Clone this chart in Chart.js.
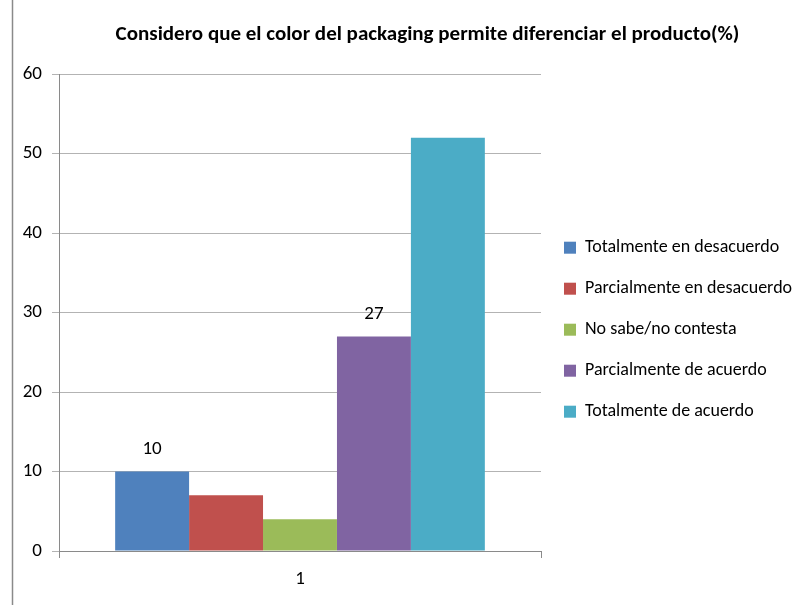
<!DOCTYPE html>
<html>
<head>
<meta charset="utf-8">
<script src="https://cdn.jsdelivr.net/npm/chart.js@4/dist/chart.umd.min.js"></script>
<style>
  html, body { margin: 0; padding: 0; background: #ffffff; }
  #wrap { width: 797px; height: 605px; }
</style>
</head>
<body>
<div id="wrap"><canvas id="c" width="797" height="605"></canvas></div>
<script>
const categories = ['1'];
const seriesNames = [
  'Totalmente en desacuerdo',
  'Parcialmente en desacuerdo',
  'No sabe/no contesta',
  'Parcialmente de acuerdo',
  'Totalmente de acuerdo'
];
const seriesValues = [10, 7, 4, 27, 52];
const seriesColors = ['#4F81BD', '#C0504D', '#9BBB59', '#8064A2', '#4BACC6'];
const showValueLabel = [true, false, false, true, false];
const yTicks = [0, 10, 20, 30, 40, 50, 60];

const FONT = "Carlito, Lato, 'Liberation Sans', sans-serif";

// Thin frame line along the left edge of the sheet
const leftRule = {
  id: 'leftRule',
  beforeDraw(chart) {
    const ctx = chart.ctx;
    ctx.save();
    ctx.fillStyle = '#ffffff';
    ctx.fillRect(0, 0, chart.width, chart.height);
    ctx.strokeStyle = '#8a8a8a';
    ctx.lineWidth = 1.5;
    ctx.beginPath();
    ctx.moveTo(12.5, 0);
    ctx.lineTo(12.5, chart.height);
    ctx.stroke();
    ctx.restore();
  }
};

// Centre the title over the plot and legend block rather than the whole canvas
const titleShift = {
  id: 'titleShift',
  afterLayout(chart) {
    if (chart.titleBlock) chart.titleBlock.left += 48;
  }
};

// Value labels above selected bars
const valueLabels = {
  id: 'valueLabels',
  afterDatasetsDraw(chart) {
    const ctx = chart.ctx;
    ctx.save();
    ctx.font = '19px ' + FONT;
    ctx.fillStyle = '#000000';
    ctx.textAlign = 'center';
    ctx.textBaseline = 'middle';
    chart.data.datasets.forEach((ds, i) => {
      if (!showValueLabel[i]) return;
      const meta = chart.getDatasetMeta(i);
      meta.data.forEach((bar, j) => {
        ctx.fillText(String(ds.data[j]), bar.x, bar.y - 22);
      });
    });
    ctx.restore();
  }
};

new Chart(document.getElementById('c'), {
  type: 'bar',
  data: {
    labels: categories,
    datasets: seriesNames.map((name, i) => ({
      label: name,
      data: [seriesValues[i]],
      backgroundColor: seriesColors[i],
      borderWidth: 0,
      barPercentage: 1.0,
      categoryPercentage: 0.767
    }))
  },
  options: {
    responsive: false,
    animation: false,
    layout: { padding: { left: 14, right: 4, top: 0, bottom: 0 } },
    plugins: {
      title: {
        display: true,
        text: 'Considero que el color del packaging permite diferenciar el producto(%)',
        color: '#000000',
        font: { family: FONT, size: 21, weight: 'bold' },
        padding: { top: 22, bottom: 27 }
      },
      legend: {
        position: 'right',
        maxWidth: 252,
        title: { display: true, text: ' ', font: { size: 12 }, padding: 20 },
        labels: {
          color: '#000000',
          font: { family: FONT, size: 18 },
          boxWidth: 12,
          boxHeight: 12,
          padding: 23
        }
      },
      tooltip: { enabled: false }
    },
    scales: {
      y: {
        min: 0,
        max: 60,
        afterBuildTicks(scale) { scale.ticks = yTicks.map(v => ({ value: v })); },
        afterFit(scale) { scale.width = 45; },
        ticks: { color: '#000000', font: { family: FONT, size: 19 }, padding: 10 },
        grid: { color: '#b3b3b3', lineWidth: 1, tickLength: 7 },
        border: { color: '#8a8a8a' }
      },
      x: {
        afterFit(scale) { scale.height = 54; },
        ticks: { color: '#000000', font: { family: FONT, size: 19 }, padding: 10 },
        grid: { drawOnChartArea: false, color: '#8a8a8a', tickLength: 7, offset: true },
        border: { color: '#8a8a8a' }
      }
    }
  },
  plugins: [leftRule, titleShift, valueLabels]
});
</script>
</body>
</html>
